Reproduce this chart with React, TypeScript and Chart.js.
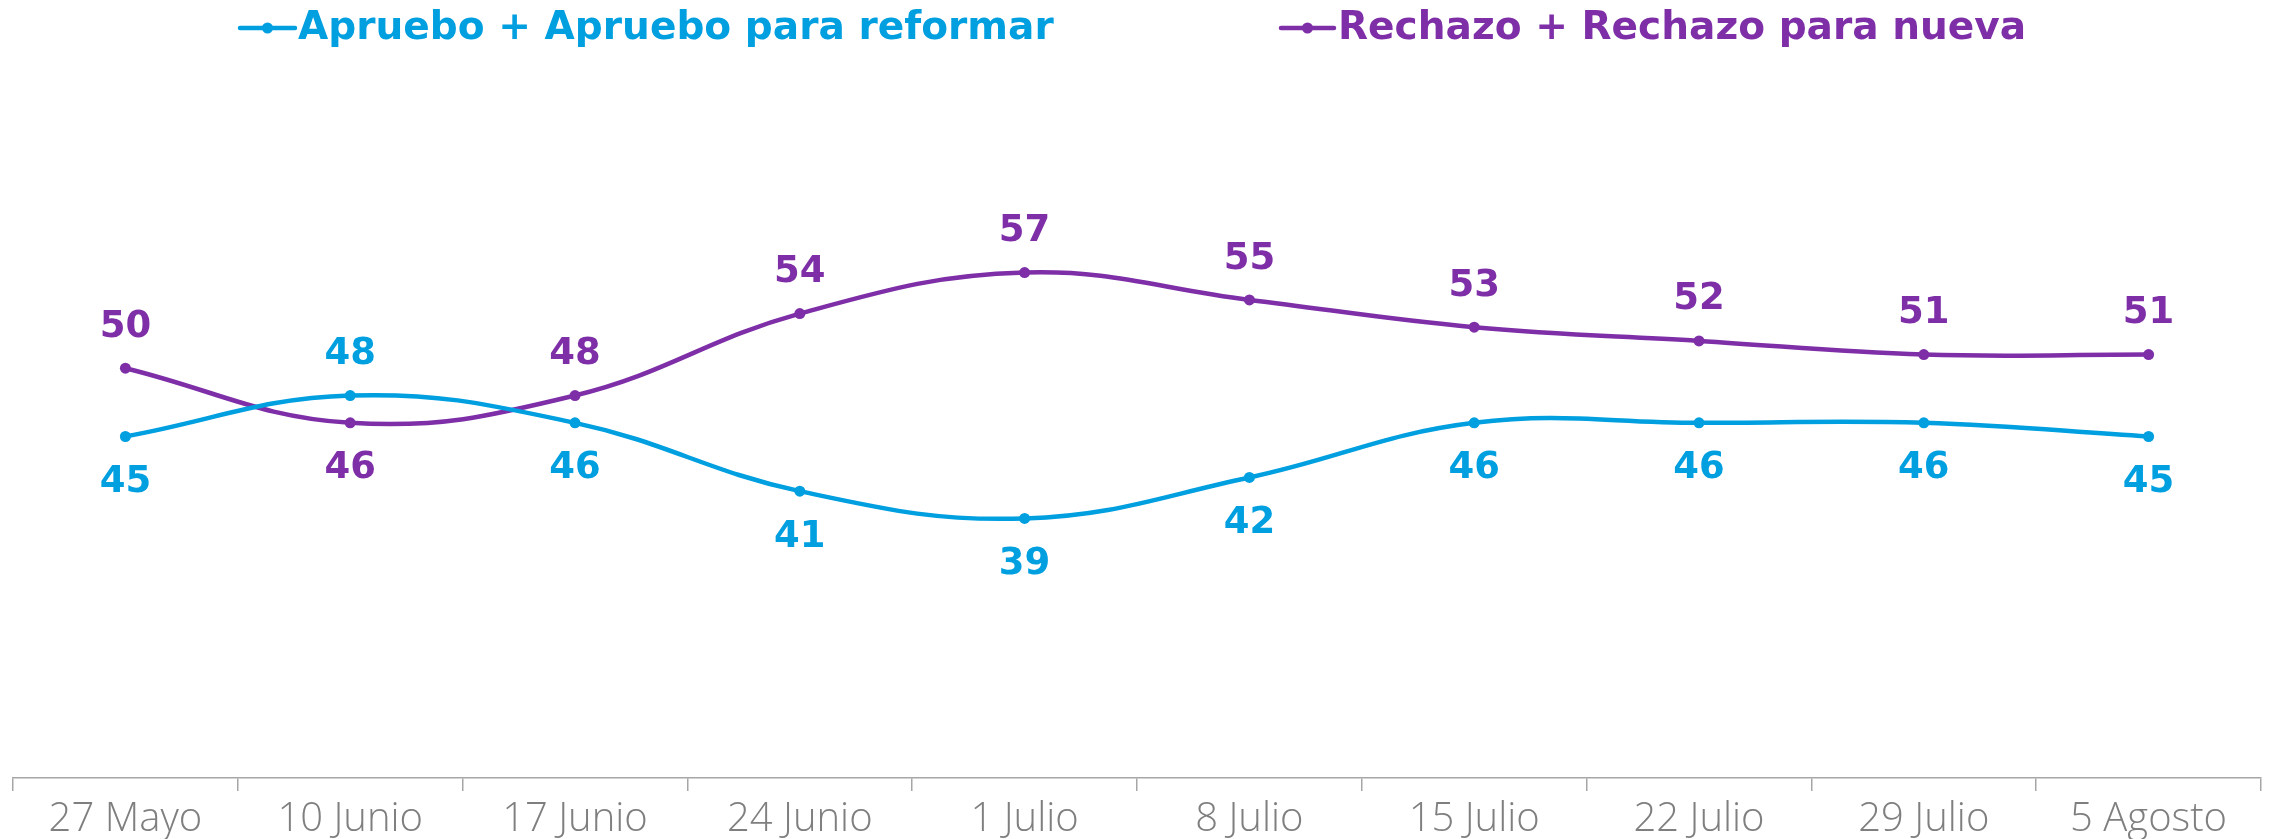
import React, { useEffect, useRef } from 'react';
import { Chart, registerables } from 'chart.js';

Chart.register(...registerables);

const categories = ['27 Mayo', '10 Junio', '17 Junio', '24 Junio', '1 Julio', '8 Julio', '15 Julio', '22 Julio', '29 Julio', '5 Agosto'];
const aprueboValues = [45, 48, 46, 41, 39, 42, 46, 46, 46, 45];
const rechazoValues = [50, 46, 48, 54, 57, 55, 53, 52, 51, 51];
const aprueboName = 'Apruebo + Apruebo para reformar';
const rechazoName = 'Rechazo + Rechazo para nueva';
// label side per point: 1 = above, -1 = below
const aprueboLabelSide = [-1, 1, -1, -1, -1, -1, -1, -1, -1, -1];
const rechazoLabelSide = [1, -1, 1, 1, 1, 1, 1, 1, 1, 1];

const BLUE = '#009FE0';
const PURPLE = '#7E2FA7';
const BOLD_FONT = '"DejaVu Sans", sans-serif';

const dataLabelPlugin = {
  id: 'dataLabels',
  afterDatasetsDraw(chart: any) {
    const ctx = chart.ctx;
    ctx.save();
    ctx.font = `bold 37px ${BOLD_FONT}`;
    ctx.textAlign = 'center';
    ctx.textBaseline = 'middle';
    chart.data.datasets.forEach((ds: any, i: number) => {
      const meta = chart.getDatasetMeta(i);
      const sides: number[] = ds.labelSide;
      ctx.fillStyle = ds.borderColor;
      meta.data.forEach((pt: any, j: number) => {
        const side = sides[j];
        const off = side > 0 ? -41 : 46;
        ctx.fillText(String(ds.data[j]), pt.x, pt.y + off);
      });
    });
    ctx.restore();
  },
};

const legendPlugin = {
  id: 'customLegend',
  afterDraw(chart: any) {
    const ctx = chart.ctx;
    ctx.save();
    ctx.font = `bold 100px ${BOLD_FONT}`;
    const w1 = ctx.measureText(aprueboName).width;
    const size = (100 * 756) / w1;
    ctx.font = `bold ${size}px ${BOLD_FONT}`;
    ctx.textBaseline = 'middle';
    ctx.textAlign = 'left';
    const items = [
      { ds: 0, x0: 240, x1: 295, tx: 298 },
      { ds: 1, x0: 1281, x1: 1334, tx: 1338 },
    ];
    const y = 28;
    items.forEach((it) => {
      const ds = chart.data.datasets[it.ds];
      ctx.strokeStyle = ds.borderColor;
      ctx.fillStyle = ds.borderColor;
      ctx.lineWidth = 4.5;
      ctx.lineCap = 'round';
      ctx.beginPath();
      ctx.moveTo(it.x0, y);
      ctx.lineTo(it.x1, y);
      ctx.stroke();
      ctx.beginPath();
      ctx.arc((it.x0 + it.x1) / 2, y, 5.5, 0, Math.PI * 2);
      ctx.fill();
      ctx.fillText(ds.label, it.tx, y + 1);
    });
    ctx.restore();
  },
};

export default function App() {
  const ref = useRef<HTMLCanvasElement | null>(null);
  useEffect(() => {
    document.body.style.margin = '0';
    const canvas = ref.current;
    if (!canvas) return;
    const chart = new Chart(canvas, {
      type: 'line',
      data: {
        labels: categories,
        datasets: [
          {
            label: aprueboName,
            data: aprueboValues,
            borderColor: BLUE,
            backgroundColor: BLUE,
            borderWidth: 4.5,
            pointRadius: 5.5,
            pointBackgroundColor: BLUE,
            pointBorderWidth: 0,
            tension: 0.4,
            labelSide: aprueboLabelSide,
          } as any,
          {
            label: rechazoName,
            data: rechazoValues,
            borderColor: PURPLE,
            backgroundColor: PURPLE,
            borderWidth: 4.5,
            pointRadius: 5.5,
            pointBackgroundColor: PURPLE,
            pointBorderWidth: 0,
            tension: 0.4,
            labelSide: rechazoLabelSide,
          } as any,
        ],
      },
      options: {
        responsive: false,
        animation: false,
        layout: { padding: { left: 13, right: 14, top: 95, bottom: -10 } },
        plugins: {
          legend: { display: false },
          tooltip: { enabled: false },
        },
        scales: {
          x: {
            offset: true,
            grid: {
              offset: true,
              drawOnChartArea: false,
              drawTicks: true,
              tickLength: 13,
              color: '#a6a6a6',
              lineWidth: 1.5,
            },
            border: { display: true, color: '#a6a6a6', width: 1.5 },
            ticks: {
              color: '#7f7f7f',
              padding: 9,
              maxRotation: 0,
              autoSkip: false,
              font: { family: '"Open Sans", sans-serif', size: 40, weight: '300' as any, lineHeight: 1 },
            },
          },
          y: {
            display: false,
            min: 20,
            max: 70,
          },
        },
      },
      plugins: [dataLabelPlugin, legendPlugin],
    });
    return () => chart.destroy();
  }, []);
  return (
    <div style={{ position: 'absolute', left: 0, top: 0, width: 2275, height: 839, background: '#fff' }}>
      <canvas ref={ref} width={2275} height={839} style={{ display: 'block' }} />
    </div>
  );
}
